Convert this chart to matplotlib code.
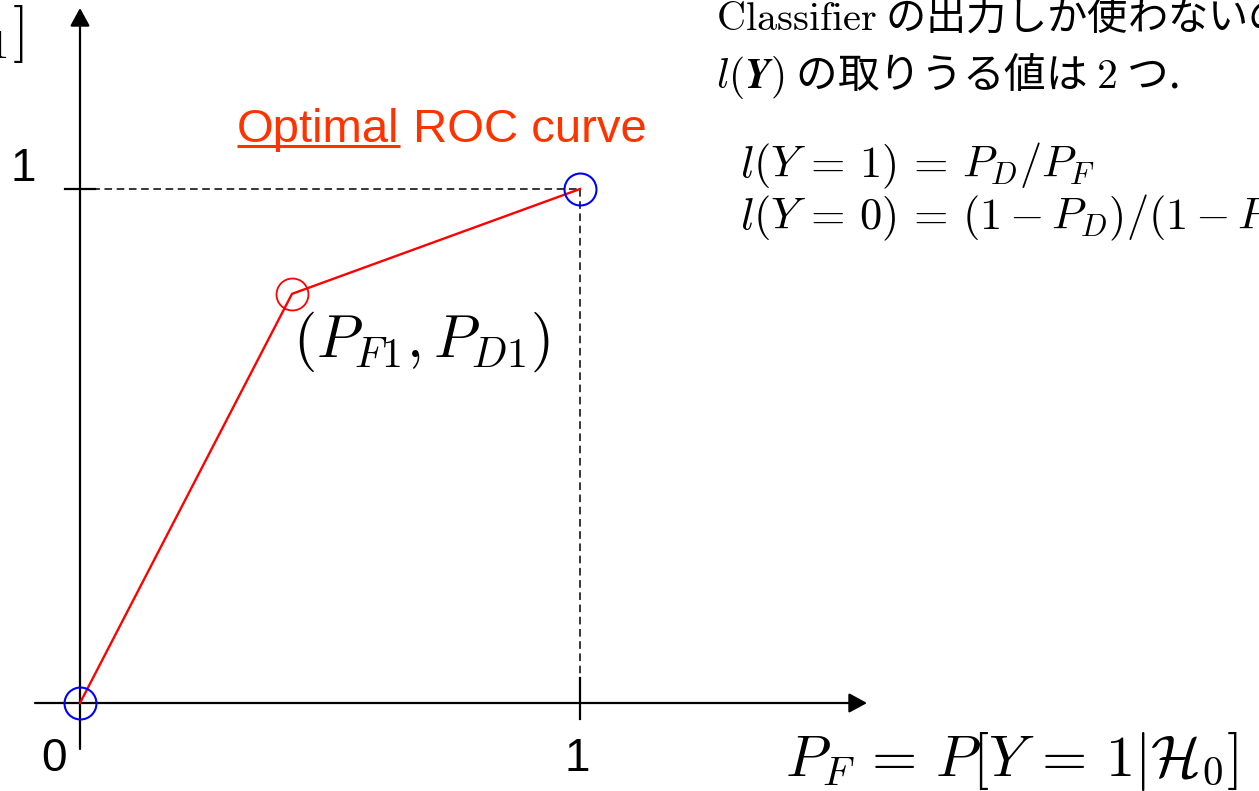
import matplotlib
matplotlib.use("Agg")
import matplotlib.pyplot as plt

plt.rcParams['mathtext.fontset'] = 'cm'
plt.rcParams['font.family'] = ['Liberation Sans', 'DejaVu Sans']

# ROC points: origin, optimal operating point, (1, 1)
roc_pf = [0.0, 0.424, 1.0]
roc_pd = [0.0, 0.796, 1.0]
end_pf = [0.0, 1.0]
end_pd = [0.0, 1.0]
opt_pf = [0.424]
opt_pd = [0.796]
tick_labels = ['0', '1', '1']

W, H = 1259, 791
fig = plt.figure(figsize=(W / 100, H / 100), dpi=100)
ax = fig.add_axes([0, 0, 1, 1])
# origin sits at pixel (80, 703); unit = 500 px across, 514 px up
ax.set_xlim(-80 / 500, (W - 80) / 500)
ax.set_ylim((703 - H) / 514, 703 / 514)
ax.axis('off')


def px(x, y):
    return ((x - 80) / 500, (703 - y) / 514)


arrow = dict(arrowstyle='-|>,head_length=0.55,head_width=0.3',
             color='k', lw=1.6, mutation_scale=20, shrinkA=0, shrinkB=0)
ax.annotate('', xy=px(80, 8), xytext=px(80, 749), arrowprops=arrow)
ax.annotate('', xy=px(867, 703), xytext=px(35, 703), arrowprops=arrow)

# ticks at 1
ax.plot([-0.03, 0.03], [1, 1], color='k', lw=1.6)
ax.plot([1, 1], [0.049, -0.031], color='k', lw=1.6)

# guide lines to (1, 1)
ax.plot([0, 1], [1, 1], color='k', lw=1.1, dashes=(5, 3))
ax.plot([1, 1], [1, 0.049], color='k', lw=1.1, dashes=(5, 3))

ax.plot(roc_pf, roc_pd, color='red', lw=1.7, zorder=3)
ax.plot(end_pf, end_pd, 'o', ms=23, mfc='none', mec='blue', mew=1.5, zorder=4)
ax.plot(opt_pf, opt_pd, 'o', ms=23, mfc='none', mec='red', mew=1.3, zorder=4)

ax.text(*px(23, 169), tick_labels[1], fontsize=33, ha='center', va='center')
ax.text(*px(54, 759), tick_labels[0], fontsize=33, ha='center', va='center')
ax.text(*px(577, 759), tick_labels[2], fontsize=33, ha='center', va='center')

orange = '#ff3300'
t1 = ax.text(*px(237, 142), 'Optimal', fontsize=34, color=orange,
             va='baseline', ha='left')
ax.annotate(' ROC curve', xy=(1, 0), xycoords=t1, fontsize=34,
            color=orange, va='bottom', ha='left')
fig.canvas.draw()
bb = t1.get_window_extent().transformed(ax.transData.inverted())
uy = px(0, 146)[1]
ax.plot([bb.x0, bb.x1], [uy, uy], color=orange, lw=2.2, solid_capstyle='butt')

ax.text(*px(293, 357), r'$(P_{F1}, P_{D1})$', fontsize=43, va='baseline')

ax.text(*px(785, 776), r'$P_F \,=\, P[Y \,=\, 1|\mathcal{H}_0]$', fontsize=42,
        va='baseline')
ax.text(*px(24, 49), r'$P_D \,=\, P[Y \,=\, 1|\mathcal{H}_1]$', fontsize=42,
        va='baseline', ha='right')

jp = ['Noto Sans CJK JP', 'DejaVu Sans']
ax.text(*px(716, 30), r'$\mathrm{Classifier}$ の出力しか使わないので',
        fontsize=29, family=jp, va='baseline')
ax.text(*px(716, 88), r'$l(\mathbfit{Y})$ の取りうる値は $2$ つ.',
        fontsize=30, family=jp, va='baseline')

ax.text(*px(740, 177), r'$l(Y \,=\, 1) \,=\, P_D/P_F$', fontsize=32,
        va='baseline')
ax.text(*px(740, 229), r'$l(Y \,=\, 0) \,=\, (1 - P_D)/(1 - P_F)$',
        fontsize=32, va='baseline')

fig.savefig('out.png', dpi=100)
